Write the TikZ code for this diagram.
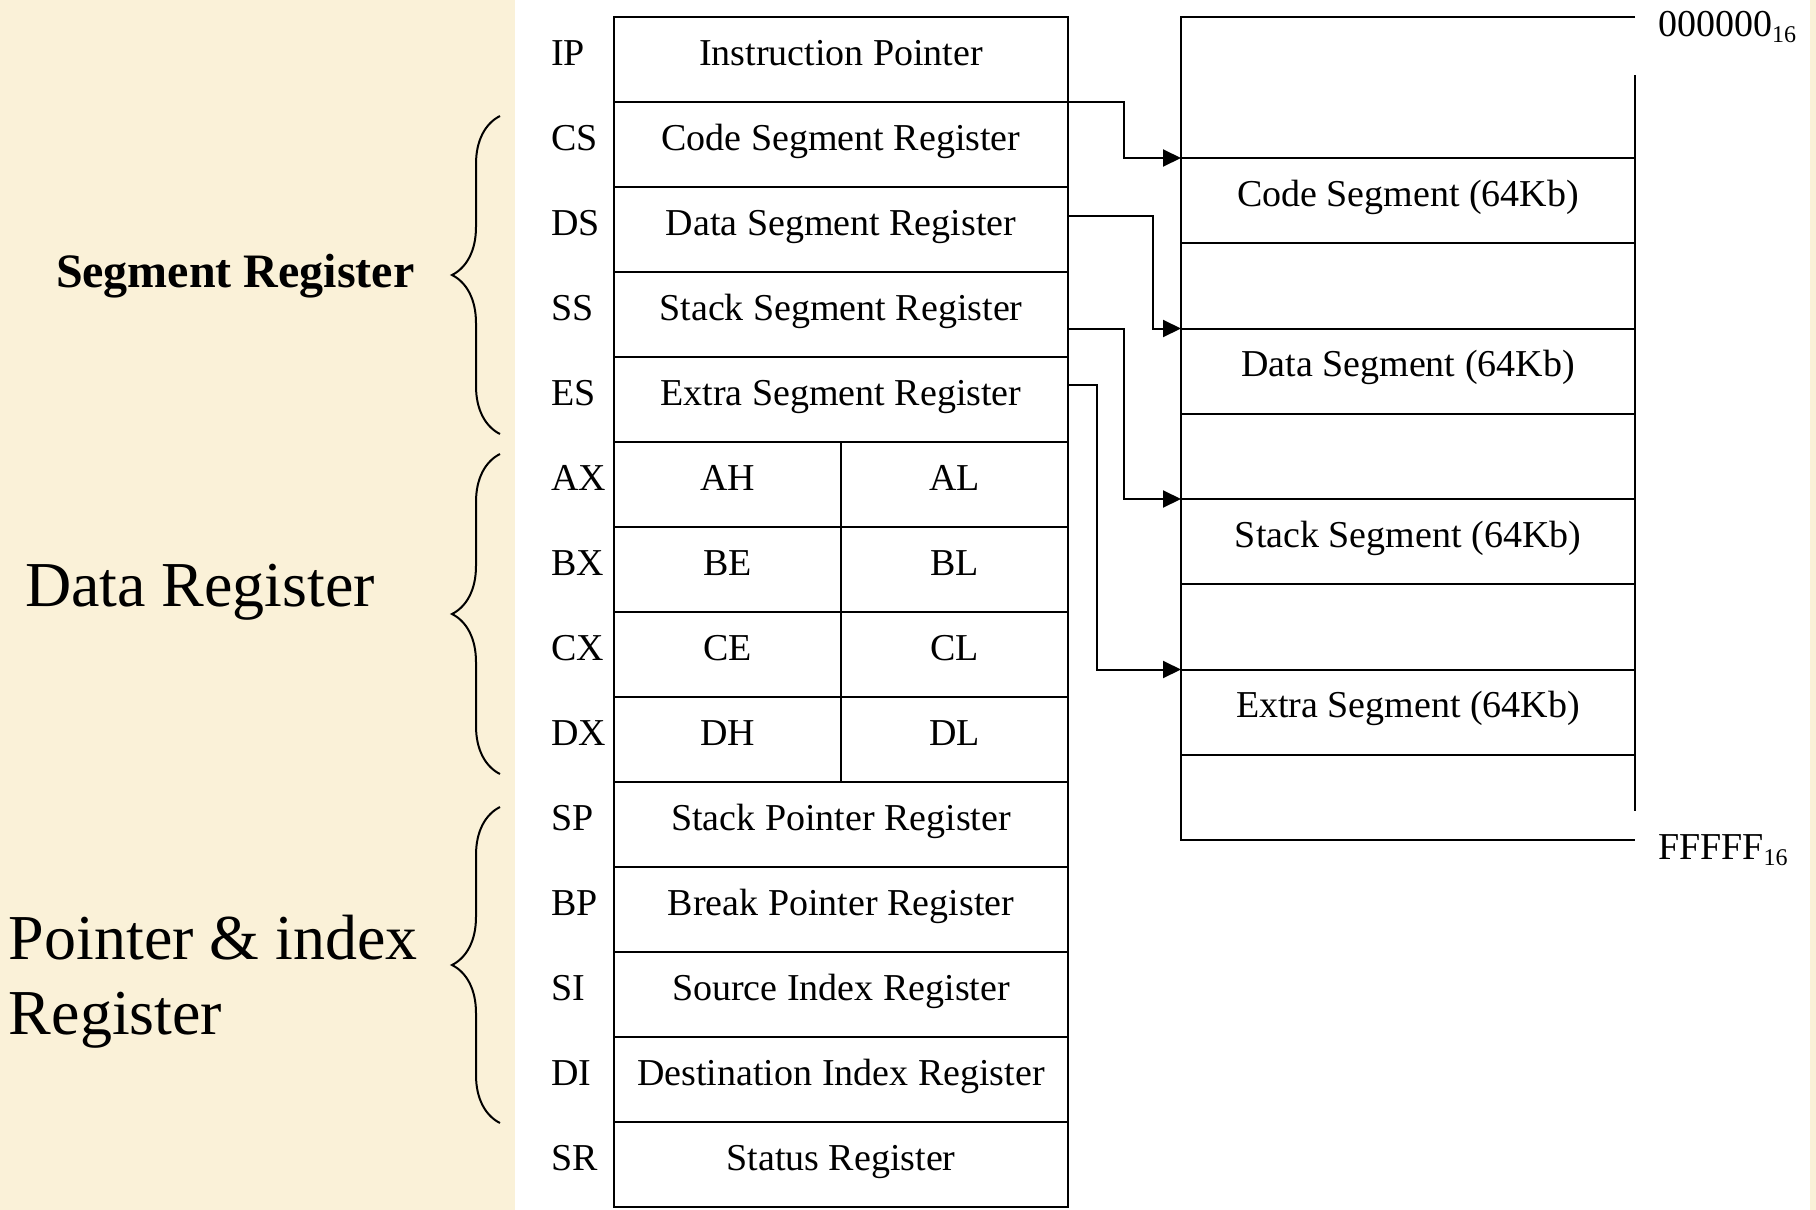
\documentclass[tikz,border=0pt]{standalone}
\usepackage{fontspec}
\setmainfont{Liberation Serif}
\usetikzlibrary{arrows.meta,decorations.pathreplacing}
\definecolor{parchment}{RGB}{250,241,216}
\newcommand{\hexsub}[1]{{\fontsize{24}{24}\selectfont\raisebox{-6pt}{#1}}}

\begin{document}
\begin{tikzpicture}[x=1pt,y=-1pt,
  reg/.style={draw=black,line width=2pt,minimum height=85pt,anchor=north west,text height=31pt,text depth=20pt,font=\fontsize{38}{44}\selectfont},
  wide/.style={reg,minimum width=454pt},
  half/.style={reg,minimum width=227pt},
  seg/.style={reg,minimum width=454pt,minimum height=85.25pt},
  tag/.style={anchor=base west,font=\fontsize{38}{44}\selectfont},
  group/.style={anchor=base west,font=\fontsize{64}{75}\selectfont},
  ptr/.style={draw=black,line width=2pt,-{Triangle[length=18pt,width=17pt]}},
  brk/.style={draw=black,line width=2pt,decorate,decoration={brace,amplitude=48pt}}]
\tikzstyle{every node}+=[inner sep=0pt,outer sep=0pt]
\useasboundingbox (0,0) rectangle (1816,1210);
\fill [white] (0,0) rectangle (1816,1210);
\fill [parchment] (0,0) rectangle (515,1210);
\fill [parchment] (1810,0) rectangle (1816,1210);
\node [group,font=\bfseries\fontsize{48}{56}\selectfont] (segname) at (56,287) {Segment Register};
\node [group] (dataname) at (25,606) {Data Register};
\node [group] (ptrname) at (9,959) {Pointer \& index};
\node [group] (ptrname2) at (9,1034) {Register};
\draw [brk] (500,434) -- (500,116);
\draw [brk] (500,774) -- (500,454);
\draw [brk] (500,1123) -- (500,807);
\node [tag] (lip) at (551,65) {IP};
\node [tag] (lcs) at (551,150) {CS};
\node [tag] (lds) at (551,235) {DS};
\node [tag] (lss) at (551,320) {SS};
\node [tag] (les) at (551,405) {ES};
\node [tag] (lax) at (551,490) {AX};
\node [tag] (lbx) at (551,575) {BX};
\node [tag] (lcx) at (551,660) {CX};
\node [tag] (ldx) at (551,745) {DX};
\node [tag] (lsp) at (551,830) {SP};
\node [tag] (lbp) at (551,915) {BP};
\node [tag] (lsi) at (551,1000) {SI};
\node [tag] (ldi) at (551,1085) {DI};
\node [tag] (lsr) at (551,1170) {SR};
\node [wide] (ip) at (614,17) {Instruction Pointer};
\node [wide] (cs) at (614,102) {Code Segment Register};
\node [wide] (ds) at (614,187) {Data Segment Register};
\node [wide] (ss) at (614,272) {Stack Segment Register};
\node [wide] (es) at (614,357) {Extra Segment Register};
\node [half] (ah) at (614,442) {AH};
\node [half] (al) at (841,442) {AL};
\node [half] (bh) at (614,527) {BE};
\node [half] (bl) at (841,527) {BL};
\node [half] (ch) at (614,612) {CE};
\node [half] (cl) at (841,612) {CL};
\node [half] (dh) at (614,697) {DH};
\node [half] (dl) at (841,697) {DL};
\node [wide] (sp) at (614,782) {Stack Pointer Register};
\node [wide] (bp) at (614,867) {Break Pointer Register};
\node [wide] (si) at (614,952) {Source Index Register};
\node [wide] (di) at (614,1037) {Destination Index Register};
\node [wide] (sr) at (614,1122) {Status Register};
\draw [black,line width=2pt] (1635,17) -- (1181,17) -- (1181,840) -- (1635,840);
\draw [black,line width=2pt] (1635,75) -- (1635,811);
\node [seg] (codeseg) at (1181,158) {Code Segment (64Kb)};
\node [seg] (dataseg) at (1181,328.5) {Data Segment (64Kb)};
\node [seg] (stackseg) at (1181,499) {Stack Segment (64Kb)};
\node [seg] (extraseg) at (1181,669.5) {Extra Segment (64Kb)};
\node [tag] (lowaddr) at (1658,36) {000000\hexsub{16}};
\node [tag] (highaddr) at (1658,859) {FFFFF\hexsub{16}};
\draw [ptr] (cs.north east) -- ++(56,0) |- (codeseg.north west);
\draw [ptr] ([yshift=-29pt]ds.north east) -- ++(85,0) |- (dataseg.north west);
\draw [ptr] ([yshift=-57pt]ss.north east) -- ++(56,0) |- (stackseg.north west);
\draw [ptr] ([yshift=-28pt]es.north east) -- ++(29,0) |- (extraseg.north west);
\end{tikzpicture}
\end{document}
